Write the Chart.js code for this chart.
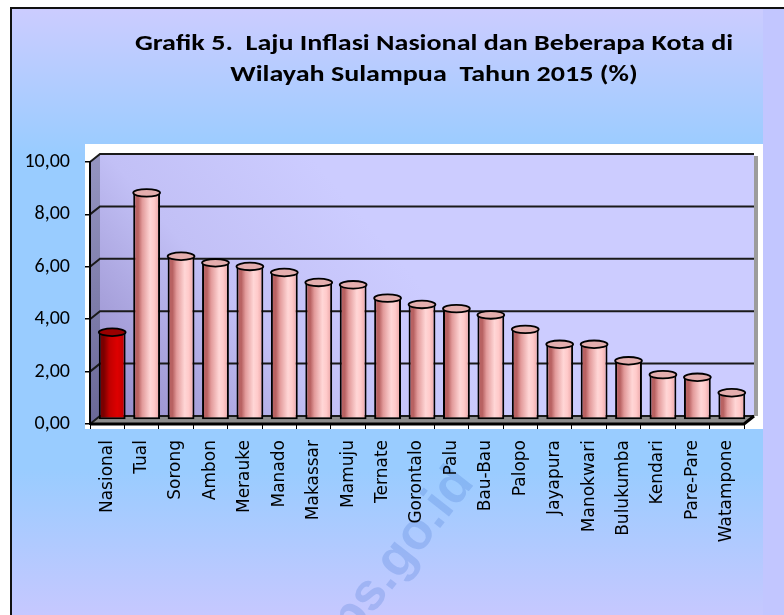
<!DOCTYPE html>
<html>
<head>
<meta charset="utf-8">
<script src="https://cdn.jsdelivr.net/npm/chart.js@4/dist/chart.umd.min.js"></script>
<style>
  html, body { margin: 0; padding: 0; background: #fff; }
  canvas { display: block; }
</style>
</head>
<body>
<canvas id="grafik" width="784" height="615"></canvas>
<script>
// data
const kota = ['Nasional', 'Tual', 'Sorong', 'Ambon', 'Merauke', 'Manado', 'Makassar', 'Mamuju', 'Ternate',
  'Gorontalo', 'Palu', 'Bau-Bau', 'Palopo', 'Jayapura', 'Manokwari', 'Bulukumba', 'Kendari', 'Pare-Pare', 'Watampone']
const inflasi = [3.35, 8.67, 6.25, 6.00, 5.86, 5.63, 5.25, 5.16, 4.65, 4.41, 4.25, 4.01, 3.46, 2.89, 2.89, 2.26, 1.73, 1.63, 1.04]
const judul = ['Grafik 5.  Laju Inflasi Nasional dan Beberapa Kota di', 'Wilayah Sulampua  Tahun 2015 (%)']
const watermark = 'bps.go.id'

// kedalaman efek 3D
const DX = 10, DY = -8

function gradBatang(ctx, i) {
  const chart = ctx.chart
  const sx = chart.scales.x
  if (!chart.chartArea || !sx) return i === 0 ? '#cc0000' : '#f4b4b4'
  const x = sx.getPixelForValue(i) + DX / 2
  const w = (sx.width / kota.length) * 0.78
  const g = chart.ctx.createLinearGradient(x - w / 2, 0, x + w / 2, 0)
  if (i === 0) {
    g.addColorStop(0, '#7a0000')
    g.addColorStop(0.2, '#c00000')
    g.addColorStop(0.5, '#dd0000')
    g.addColorStop(0.8, '#c00000')
    g.addColorStop(1, '#7a0000')
  } else {
    g.addColorStop(0, '#b86262')
    g.addColorStop(0.15, '#e29a9a')
    g.addColorStop(0.45, '#ffd6d6')
    g.addColorStop(0.6, '#ffcaca')
    g.addColorStop(0.85, '#e49a9a')
    g.addColorStop(1, '#b05a5a')
  }
  return g
}

const latar = {
  id: 'latar',
  beforeDraw(chart) {
    const c = chart.ctx
    const W = chart.width, H = chart.height
    const a = chart.chartArea
    c.save()
    c.fillStyle = '#fff'
    c.fillRect(0, 0, W, H)
    // bingkai
    const g = c.createLinearGradient(0, 8, 0, H)
    g.addColorStop(0, '#ccccff')
    g.addColorStop(0.24, '#99ccff')
    g.addColorStop(0.76, '#99ccff')
    g.addColorStop(1, '#c6c8ff')
    c.fillStyle = g
    c.fillRect(11, 8, W - 11, H - 8)
    c.fillStyle = '#c2c6ff'
    c.fillRect(763, 8, W - 763, H - 8)

    // watermark
    c.save()
    c.translate(333, 665)
    c.rotate(-52 * Math.PI / 180)
    c.font = 'bold 52px "Liberation Sans", Arial, sans-serif'
    c.fillStyle = 'rgba(70,120,210,0.25)'
    c.fillText(watermark, 0, 0)
    c.restore()

    c.strokeStyle = '#111'
    c.lineWidth = 2
    c.beginPath()
    c.moveTo(11, H)
    c.lineTo(11, 8)
    c.lineTo(W, 8)
    c.stroke()

    // panel putih
    c.fillStyle = '#fff'
    c.fillRect(85, 144, 678, 285)

    // judul (gambar asli sedikit melebar)
    c.save()
    c.translate(434, 0)
    c.scale(1.22, 1)
    c.font = 'bold 23px Carlito, "Open Sans", sans-serif'
    c.fillStyle = '#000'
    c.textAlign = 'center'
    c.textBaseline = 'alphabetic'
    c.fillText(judul[0], 0, 50)
    c.fillText(judul[1], 0, 81)
    c.restore()

    // dinding belakang 3D
    const L = a.left, R = a.right, T = a.top, B = a.bottom
    const gw = c.createLinearGradient(L, B, L + 260, T + 40)
    gw.addColorStop(0, '#8e84c2')
    gw.addColorStop(0.55, '#c2c0f6')
    gw.addColorStop(1, '#ccccff')
    c.fillStyle = gw
    c.fillRect(L + DX, T + DY, R - L, B - T)
    // dinding kiri
    const gl = c.createLinearGradient(0, T, 0, B)
    gl.addColorStop(0, '#9494c0')
    gl.addColorStop(1, '#6a6896')
    c.fillStyle = gl
    c.beginPath()
    c.moveTo(L, T); c.lineTo(L + DX, T + DY); c.lineTo(L + DX, B + DY); c.lineTo(L, B)
    c.closePath(); c.fill()
    // lantai
    c.fillStyle = '#8c8c8c'
    c.beginPath()
    c.moveTo(L, B); c.lineTo(R, B); c.lineTo(R + DX, B + DY); c.lineTo(L + DX, B + DY)
    c.closePath(); c.fill()
    // bayangan tepi kanan
    c.strokeStyle = 'rgba(90,90,90,0.6)'
    c.lineWidth = 4
    c.beginPath()
    c.moveTo(R + DX + 2, T + DY + 2); c.lineTo(R + DX + 2, B + DY)
    c.stroke()
    // garis bantu
    const sy = chart.scales.y
    c.strokeStyle = '#1a1a1a'
    c.lineWidth = 2
    sy.ticks.forEach(t => {
      const y = sy.getPixelForValue(t.value)
      c.beginPath()
      c.moveTo(L, y); c.lineTo(L + DX, y + DY); c.lineTo(R + DX, y + DY)
      c.stroke()
    })
    c.restore()
  },
  afterDraw(chart) {
    const c = chart.ctx
    const a = chart.chartArea
    c.save()
    c.strokeStyle = '#000'
    c.lineWidth = 3
    c.beginPath()
    c.moveTo(a.left, a.bottom); c.lineTo(a.right, a.bottom); c.lineTo(a.right + DX, a.bottom + DY)
    c.stroke()
    c.restore()
  },
  beforeDatasetsDraw(chart) {
    chart.ctx.save()
    chart.ctx.translate(DX / 2, DY / 2)
  },
  afterDatasetsDraw(chart) {
    const c = chart.ctx
    chart.getDatasetMeta(0).data.forEach((el, i) => {
      c.beginPath()
      c.ellipse(el.x, el.y, el.width / 2, 3.8, 0, 0, Math.PI * 2)
      c.fillStyle = i === 0 ? '#9a0000' : '#e4aeae'
      c.fill()
      c.lineWidth = 1.8
      c.strokeStyle = '#000'
      c.stroke()
    })
    c.restore()
  }
}

new Chart(document.getElementById('grafik'), {
  type: 'bar',
  data: {
    labels: kota,
    datasets: [{
      data: inflasi,
      backgroundColor: ctx => gradBatang(ctx, ctx.dataIndex),
      borderColor: '#000',
      borderWidth: 2,
      borderSkipped: false,
      categoryPercentage: 1,
      barPercentage: 0.78
    }]
  },
  options: {
    responsive: false,
    animation: false,
    layout: { padding: { top: 162, right: 40, left: 0, bottom: 0 } },
    plugins: {
      legend: { display: false },
      title: { display: false },
      tooltip: { enabled: false }
    },
    scales: {
      x: {
        afterFit(scale) { scale.height = 191 },
        grid: { display: true, drawOnChartArea: false, offset: true, tickLength: 5, color: '#000', lineWidth: 1 },
        border: { display: true, color: '#000', width: 2 },
        ticks: {
          minRotation: 90, maxRotation: 90, autoSkip: false, padding: 11,
          color: '#000',
          font: { family: '"DejaVu Sans", Verdana, sans-serif', size: 17 }
        }
      },
      y: {
        min: 0, max: 10,
        afterFit(scale) { scale.width = 90 },
        grid: { display: true, drawOnChartArea: false, tickLength: 5, color: '#000', lineWidth: 1.5 },
        border: { display: true, color: '#000', width: 2 },
        ticks: {
          stepSize: 2, padding: 15, color: '#000',
          font: { family: 'Carlito, "Open Sans", sans-serif', size: 20 },
          callback: v => v.toFixed(2).replace('.', ',')
        }
      }
    }
  },
  plugins: [latar]
})
</script>
</body>
</html>
